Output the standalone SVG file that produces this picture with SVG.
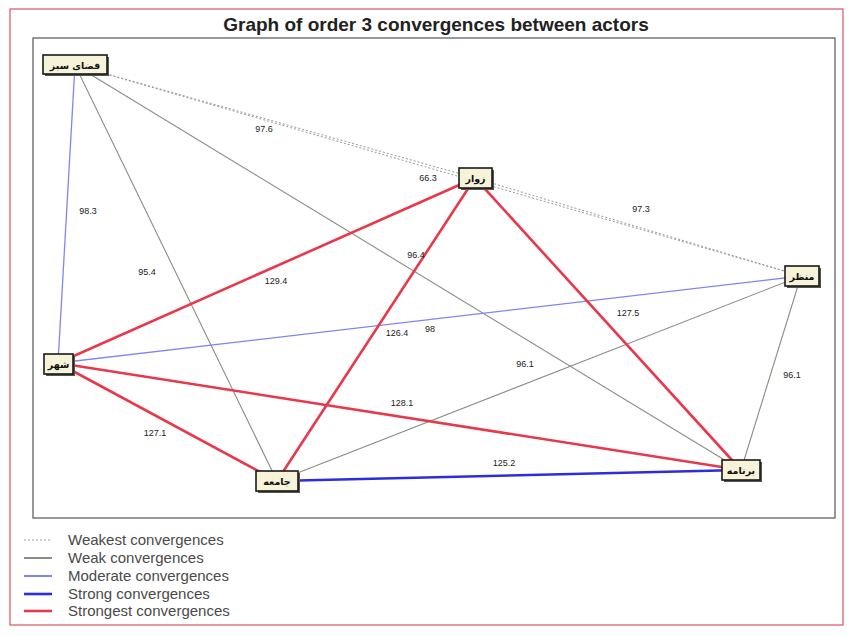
<svg xmlns="http://www.w3.org/2000/svg" width="847" height="637" viewBox="0 0 847 637">
<style>
.weakest{stroke:#9a9a9a;stroke-width:1;stroke-dasharray:2,2;fill:none}
.weak{stroke:#8c8c84;stroke-width:1.1;fill:none}
.moderate{stroke:#8484f0;stroke-width:1.3;fill:none}
.strong{stroke:#2c2ce0;stroke-width:2.4;fill:none}
.strongest{stroke:#e8384c;stroke-width:2.6;fill:none}
.lbl{font-family:"Liberation Sans",Arial,sans-serif;font-size:9px;fill:#222;text-anchor:middle}
.node rect.box{fill:#f6f3d8;stroke:#1a1a1a;stroke-width:1.6}
.node rect.sh{fill:#555}
.node text{font-family:"DejaVu Sans",sans-serif;font-size:9.5px;font-weight:bold;fill:#111;text-anchor:middle;direction:rtl}
.leg{font-family:"Liberation Sans",Arial,sans-serif;font-size:15px;fill:#4a4a4a}
</style>
<rect x="0" y="0" width="847" height="637" fill="#fff"/>
<rect x="10" y="9" width="833" height="616" fill="none" stroke="#e05060" stroke-width="1.2"/>
<text x="436" y="31" font-family="Liberation Sans,Arial,sans-serif" font-size="19" font-weight="bold" fill="#222" text-anchor="middle">Graph of order 3 convergences between actors</text>
<rect x="33" y="38" width="802" height="480" fill="none" stroke="#555" stroke-width="1.2"/>

<g id="connectors">
<line class="weakest" x1="75" y1="65" x2="475" y2="178"/>
<line class="weakest" x1="475" y1="178" x2="801" y2="276"/>
<line class="weakest" x1="75" y1="65" x2="801" y2="276"/>
<line class="moderate" x1="75" y1="65" x2="58" y2="363"/>
<line class="weak" x1="75" y1="65" x2="277" y2="481"/>
<line class="weak" x1="75" y1="65" x2="741" y2="470"/>
<line class="moderate" x1="58" y1="363" x2="801" y2="276"/>
<line class="weak" x1="277" y1="481" x2="801" y2="276"/>
<line class="weak" x1="801" y1="276" x2="741" y2="470"/>
<line class="strong" x1="277" y1="481" x2="741" y2="470"/>
<line class="strongest" x1="58" y1="363" x2="475" y2="178"/>
<line class="strongest" x1="277" y1="481" x2="475" y2="178"/>
<line class="strongest" x1="475" y1="178" x2="741" y2="470"/>
<line class="strongest" x1="58" y1="363" x2="277" y2="481"/>
<line class="strongest" x1="58" y1="363" x2="741" y2="470"/>
<text class="lbl" x="264" y="132">97.6</text>
<text class="lbl" x="428" y="181">66.3</text>
<text class="lbl" x="641" y="212">97.3</text>
<text class="lbl" x="88" y="214">98.3</text>
<text class="lbl" x="147" y="275">95.4</text>
<text class="lbl" x="416" y="258">96.4</text>
<text class="lbl" x="276" y="284">129.4</text>
<text class="lbl" x="397" y="336">126.4</text>
<text class="lbl" x="430" y="332">98</text>
<text class="lbl" x="628" y="316">127.5</text>
<text class="lbl" x="525" y="367">96.1</text>
<text class="lbl" x="792" y="378">96.1</text>
<text class="lbl" x="402" y="406">128.1</text>
<text class="lbl" x="155" y="436">127.1</text>
<text class="lbl" x="504" y="466">125.2</text>
</g>

<g id="n-fazaye-sabz" class="node">
<rect class="sh" x="45" y="57" width="64" height="19"/>
<rect class="box" x="43" y="55" width="64" height="19"/>
<text x="75" y="68.5">فضای سبز</text>
</g>
<g id="n-zovar" class="node">
<rect class="sh" x="461" y="170" width="33" height="20"/>
<rect class="box" x="459" y="168" width="33" height="20"/>
<text x="475.5" y="181.5">زوار</text>
</g>
<g id="n-manzar" class="node">
<rect class="sh" x="787" y="268" width="34" height="20"/>
<rect class="box" x="785" y="266" width="34" height="20"/>
<text x="802" y="279.5">منظر</text>
</g>
<g id="n-shahr" class="node">
<rect class="sh" x="46" y="356" width="29" height="20"/>
<rect class="box" x="44" y="354" width="29" height="20"/>
<text x="58.5" y="367.5">شهر</text>
</g>
<g id="n-jameeh" class="node">
<rect class="sh" x="258" y="473" width="42" height="20"/>
<rect class="box" x="256" y="471" width="42" height="20"/>
<text x="277" y="484.5">جامعه</text>
</g>
<g id="n-barnameh" class="node">
<rect class="sh" x="724" y="462" width="38" height="20"/>
<rect class="box" x="722" y="460" width="38" height="20"/>
<text x="741" y="473.5">برنامه</text>
</g>

<g id="legend">
<line class="weakest" x1="24" y1="540" x2="52" y2="540" stroke="#bbb"/>
<line class="weak" x1="24" y1="558" x2="52" y2="558" style="stroke-width:2"/>
<line class="moderate" x1="24" y1="576" x2="52" y2="576" style="stroke-width:2"/>
<line class="strong" x1="24" y1="594" x2="52" y2="594" style="stroke-width:2.6"/>
<line class="strongest" x1="24" y1="611" x2="52" y2="611" style="stroke-width:2.6"/>
<text class="leg" x="68" y="545">Weakest convergences</text>
<text class="leg" x="68" y="563">Weak convergences</text>
<text class="leg" x="68" y="581">Moderate convergences</text>
<text class="leg" x="68" y="599">Strong convergences</text>
<text class="leg" x="68" y="616">Strongest convergences</text>
</g>
</svg>
